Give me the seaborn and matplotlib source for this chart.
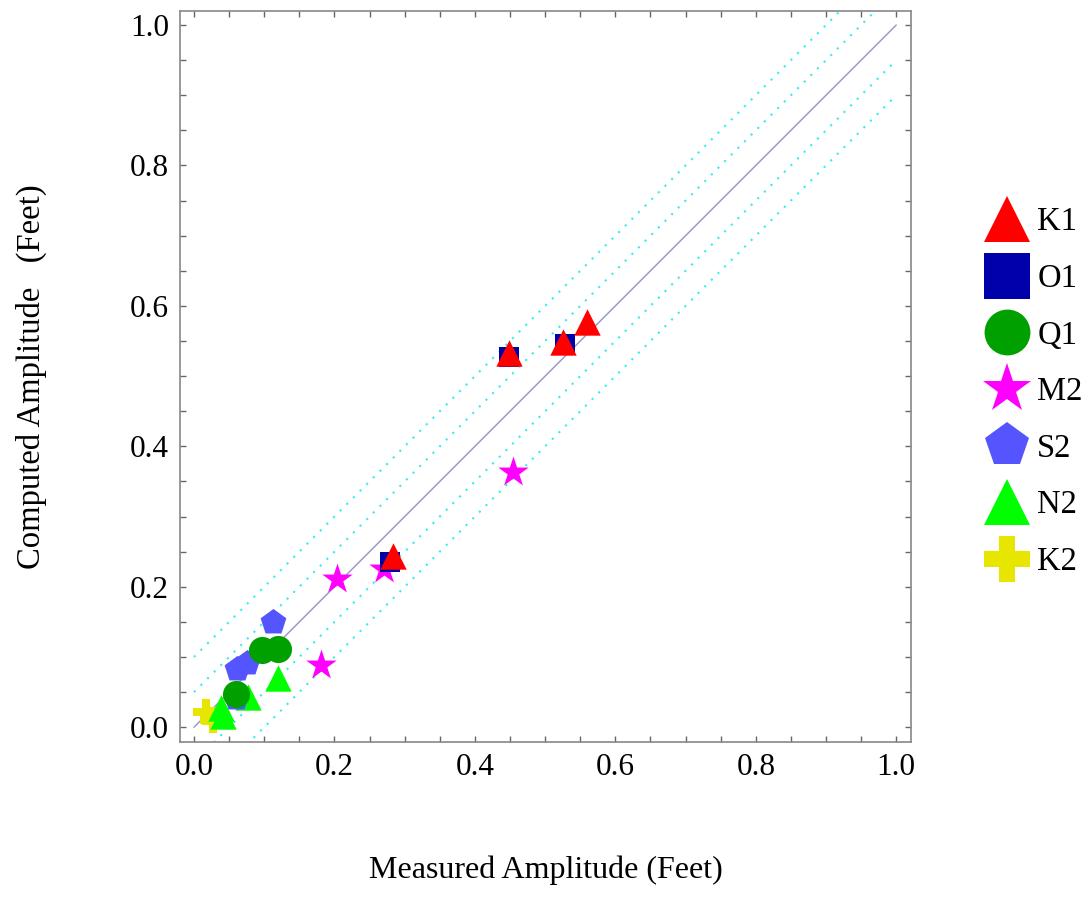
import numpy as np
import pandas as pd
import matplotlib
matplotlib.use("Agg")
import matplotlib.pyplot as plt
from matplotlib.lines import Line2D
import seaborn as sns

# constituents, legend order
constituents = ['K1', 'O1', 'Q1', 'M2', 'S2', 'N2', 'K2']

# measured (x) / computed (y) amplitudes in feet
k1_x = [0.560, 0.526, 0.449, 0.283]
k1_y = [0.577, 0.548, 0.533, 0.244]
o1_x = [0.449, 0.529, 0.279]
o1_y = [0.527, 0.546, 0.236]
q1_x = [0.097, 0.120, 0.060]
q1_y = [0.110, 0.111, 0.048]
m2_x = [0.454, 0.204, 0.271, 0.181]
m2_y = [0.363, 0.211, 0.226, 0.088]
s2_x = [0.112, 0.061, 0.075, 0.060]
s2_y = [0.150, 0.083, 0.091, 0.041]
n2_x = [0.119, 0.039, 0.042, 0.077]
n2_y = [0.070, 0.027, 0.016, 0.043]
k2_x = [0.017, 0.027]
k2_y = [0.021, 0.010]

# reference lines: y = x and dotted bands
diag = [0.0, 1.0]
band_offsets = [-0.1, -0.05, 0.05, 0.1]

colors = {'K1': '#ff0000', 'O1': '#0000aa', 'Q1': '#00a000', 'M2': '#ff00ff',
          'S2': '#5555ff', 'N2': '#00ff00', 'K2': '#e6e600'}
markers = {'K1': '^', 'O1': 's', 'Q1': 'o', 'M2': '*', 'S2': 'p', 'N2': '^', 'K2': 'P'}
ms_plot = {'K1': 19, 'O1': 14.5, 'Q1': 19.5, 'M2': 23, 'S2': 19.5, 'N2': 19, 'K2': 19}
ms_leg = {'K1': 33, 'O1': 33, 'Q1': 33, 'M2': 37, 'S2': 33, 'N2': 33, 'K2': 33}

xs = [k1_x, o1_x, q1_x, m2_x, s2_x, n2_x, k2_x]
ys = [k1_y, o1_y, q1_y, m2_y, s2_y, n2_y, k2_y]
frames = []
for name, x, y in zip(constituents, xs, ys):
    frames.append(pd.DataFrame({'measured': x, 'computed': y, 'constituent': name}))
df = pd.concat(frames, ignore_index=True)

sns.set_style('ticks')
plt.rcParams['font.family'] = ['Liberation Serif', 'DejaVu Serif']
plt.rcParams['xtick.direction'] = 'in'
plt.rcParams['ytick.direction'] = 'in'
plt.rcParams['text.color'] = 'black'
plt.rcParams['axes.labelcolor'] = 'black'

fig = plt.figure(figsize=(10.88, 9.01), dpi=100)
ax = fig.add_axes([0.1654, 0.1765, 0.6719, 0.8113])

# reference lines
ax.plot(diag, diag, color='#9c9ccc', lw=1.1, zorder=1)
for off in band_offsets:
    ax.plot(diag, [d + off for d in diag], color='#33eeee', lw=1.5,
            linestyle=(0, (1, 3.5)), zorder=1)

# draw in reverse order so K1 ends on top
for i, name in enumerate(reversed(constituents)):
    sub = df[df['constituent'] == name]
    sns.scatterplot(data=sub, x='measured', y='computed', ax=ax,
                    marker=markers[name], color=colors[name],
                    s=ms_plot[name] ** 2, linewidth=0, legend=False,
                    zorder=3 + i)

ax.set_xlim(-0.02, 1.021)
ax.set_ylim(-0.021, 1.02)
ticks = [0.0, 0.2, 0.4, 0.6, 0.8, 1.0]
ax.set_xticks(ticks)
ax.set_yticks(ticks)
ax.set_xticklabels([f'{t:.1f}' for t in ticks])
ax.set_yticklabels([f'{t:.1f}' for t in ticks])
ax.set_xticks(np.arange(0, 1.001, 0.05), minor=True)
ax.set_yticks(np.arange(0, 1.001, 0.05), minor=True)
ax.tick_params(which='both', top=True, right=True, length=4, width=1,
               color='#666666', labelcolor='black', labelsize=22.5, pad=8)
for sp in ax.spines.values():
    sp.set_color('#888888')
    sp.set_linewidth(1.2)

ax.set_xlabel('Measured Amplitude (Feet)', fontsize=23)
ax.set_ylabel('Computed Amplitude   (Feet)', fontsize=23.5)
ax.xaxis.set_label_coords(0.5, -0.155)
ax.yaxis.set_label_coords(-0.182, 0.5)

handles = [Line2D([], [], linestyle='none', marker=markers[n], color=colors[n],
                  markersize=ms_leg[n], markeredgewidth=0) for n in constituents]
fig.legend(handles, constituents, loc='center left', bbox_to_anchor=(0.8795, 0.565),
           frameon=False, fontsize=23.5, handlelength=1.31, handletextpad=0.28,
           labelspacing=0.8, borderpad=0.375)

fig.savefig('out.png', dpi=100)
